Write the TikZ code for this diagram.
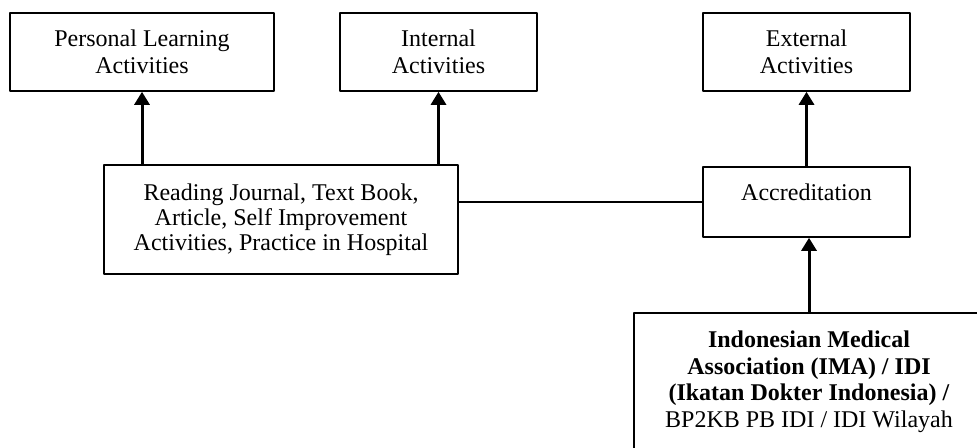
\documentclass[tikz,border=0pt]{standalone}
\usepackage{fontspec}
\setmainfont{Liberation Serif}
\usetikzlibrary{arrows.meta}
\begin{document}
\begin{tikzpicture}[x=0.5pt, y=-0.5pt, font=\fontsize{12}{13.5}\selectfont, line join=round,
	box/.style={draw, line width=0.8pt, align=center, inner sep=0pt, minimum height=39pt},
	up/.style={-{Triangle[length=6.5pt,width=7.5pt]}, line width=1.5pt}]
	\useasboundingbox (0,0) rectangle (977,448);
	\clip (0,0) rectangle (977,448);
	\node[box, minimum width=132pt] (personal) at (142,52) {Personal Learning\\Activities};
	\node[box, minimum width=98.5pt] (internal) at (438.5,52) {Internal\\Activities};
	\node[box, minimum width=103.5pt] (external) at (806.5,52) {External\\Activities};
	\node[box, minimum width=103.5pt, minimum height=0pt, text height=17pt, text depth=18pt] (accr) at (806.5,202) {Accreditation};
	\node[box, minimum width=177pt, minimum height=54.5pt, font=\fontsize{12}{12.5}\selectfont] (reading) at (281,219.5)
		{Reading Journal, Text Book,\\Article, Self Improvement\\Activities, Practice in Hospital};
	\node[box, anchor=north, minimum width=175pt, inner ysep=9pt, font=\fontsize{12}{13.3}\selectfont] (ima) at (809,312)
		{\textbf{Indonesian Medical}\\\textbf{Association (IMA) / IDI}\\\textbf{(Ikatan Dokter Indonesia) /}\\BP2KB PB IDI / IDI Wilayah};
	\draw[up] (personal.south |- reading.north) -- (personal.south);
	\draw[up] (internal.south |- reading.north) -- (internal.south);
	\draw[up] (accr.north) -- (external.south);
	\draw[up] (ima.north) -- (ima.north |- accr.south);
	\draw[line width=0.8pt] (reading.east |- accr.west) -- (accr.west);
\end{tikzpicture}
\end{document}
